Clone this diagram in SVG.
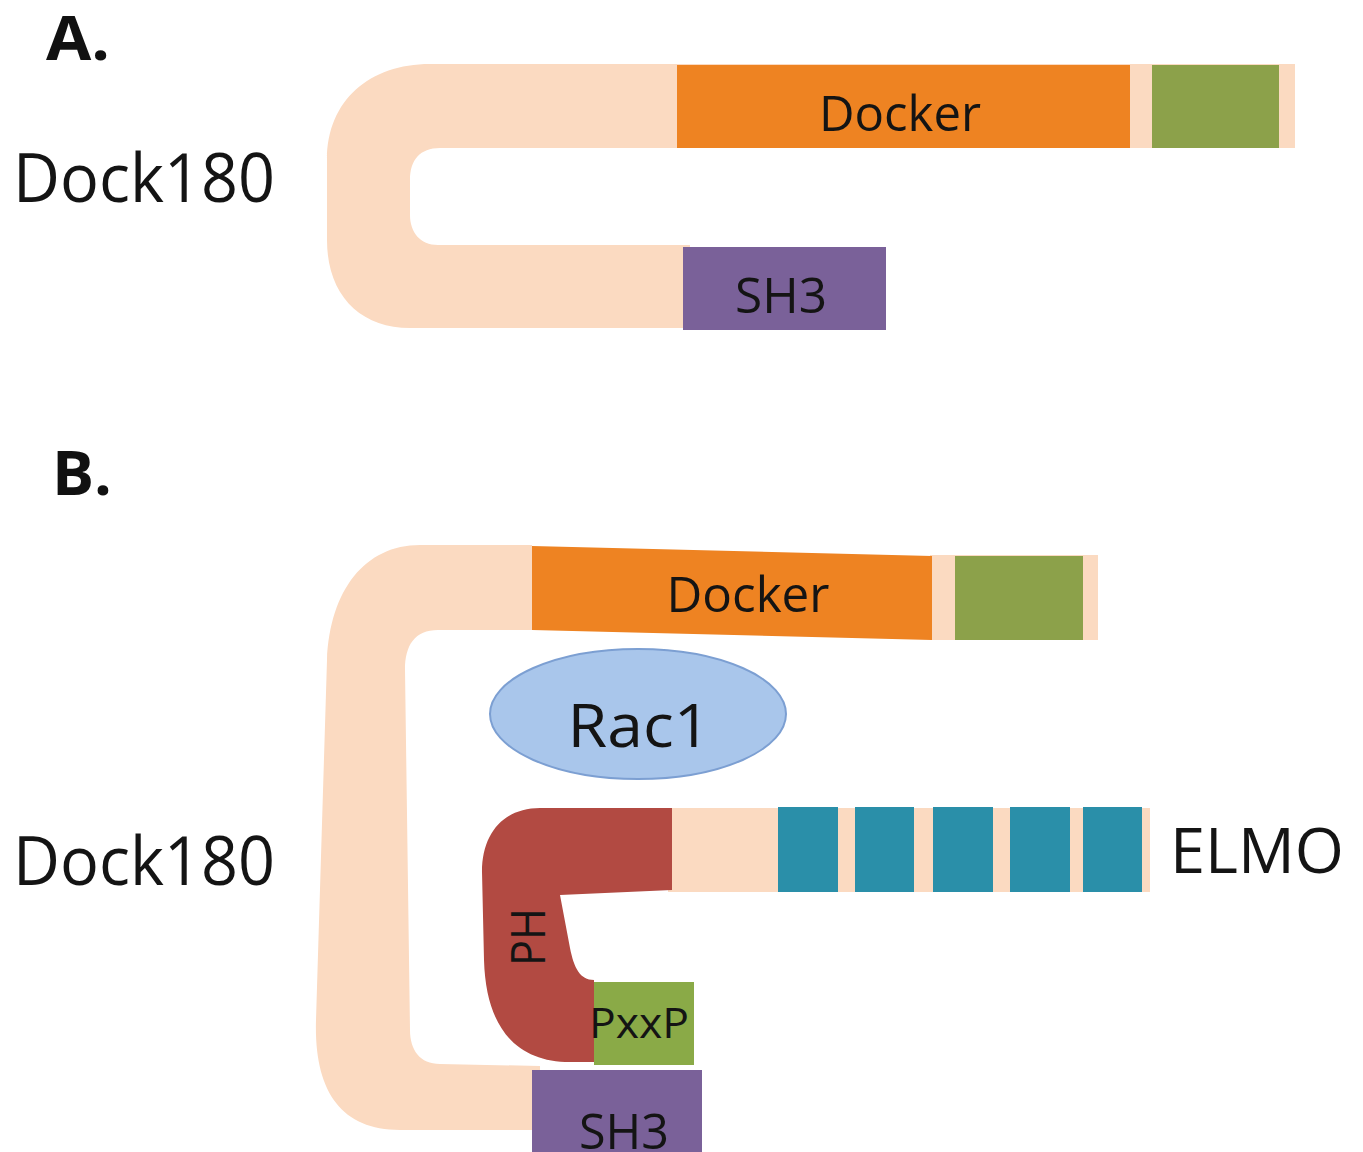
<svg xmlns="http://www.w3.org/2000/svg" width="1363" height="1152" viewBox="0 0 1363 1152">
<style>
.peach{fill:#fbdac1}
.orange{fill:#ee8322}
.green{fill:#8ca14a}
.purple{fill:#7a6199}
.teal{fill:#2a8fa9}
.red{fill:#b24a42}
.lbl{font-family:"Open Sans","Noto Sans",sans-serif;fill:#141414}
.head{font-family:"Open Sans","Noto Sans",sans-serif;font-weight:bold;fill:#111}
</style>
<rect width="1363" height="1152" fill="#ffffff"/>

<g id="panelA">
  <text class="head" x="46" y="60" font-size="60" textLength="64" lengthAdjust="spacingAndGlyphs">A.</text>
  <g id="dock180A">
    <path class="peach" d="M1295,64 L430,64 C370,64 327,100 327,160 L327,240 C327,295 360,328 410,328 L690,328 L690,245 L438,245 C420,245 410,232 410,215 L410,180 C410,160 420,148 440,148 L1295,148 Z"/>
    <rect class="orange" x="677" y="65" width="453" height="83"/>
    <rect class="green" x="1152" y="65" width="127" height="83"/>
    <rect class="purple" x="683" y="247" width="203" height="83"/>
    <text class="lbl" x="900" y="131" font-size="50" text-anchor="middle" textLength="162" lengthAdjust="spacingAndGlyphs">Docker</text>
    <text class="lbl" x="781" y="313" font-size="50" text-anchor="middle" textLength="92" lengthAdjust="spacingAndGlyphs">SH3</text>
    <text class="lbl" x="13" y="202" font-size="67" textLength="262" lengthAdjust="spacingAndGlyphs">Dock180</text>
  </g>
</g>

<g id="panelB">
  <text class="head" x="52" y="495" font-size="60" textLength="60" lengthAdjust="spacingAndGlyphs">B.</text>
  <g id="dock180B">
    <path class="peach" d="M532,545 L420,545 C365,545 330,590 327,660 L316,1020 C314,1090 340,1130 400,1130 L540,1130 L540,1066 L440,1064 C420,1064 410,1050 410,1030 L405,670 C405,645 415,630 438,630 L532,630 Z"/>
    <path class="peach" d="M930,555 L1098,555 L1098,640 L930,640 Z"/>
    <path class="orange" d="M532,546 L932,556 L932,640 L532,630 Z"/>
    <rect class="green" x="955" y="556" width="128" height="84"/>
    <rect class="purple" x="532" y="1070" width="170" height="90"/>
    <text class="lbl" x="748" y="612" font-size="50" text-anchor="middle" textLength="163" lengthAdjust="spacingAndGlyphs">Docker</text>
    <text class="lbl" x="624" y="1149" font-size="50" text-anchor="middle" textLength="90" lengthAdjust="spacingAndGlyphs">SH3</text>
    <text class="lbl" x="13" y="885" font-size="67" textLength="262" lengthAdjust="spacingAndGlyphs">Dock180</text>
  </g>
  <g id="rac1">
    <ellipse cx="638" cy="714" rx="148" ry="65" fill="#a9c6eb" stroke="#7c9fd2" stroke-width="2"/>
    <text class="lbl" x="639" y="747" font-size="61" text-anchor="middle" textLength="143" lengthAdjust="spacingAndGlyphs">Rac1</text>
  </g>
  <g id="elmo">
    <rect class="peach" x="668" y="808" width="482" height="84"/>
    <path class="red" d="M672,808 L540,808 C505,808 482,832 482,872 L484,960 C486,1030 518,1062 570,1062 L594,1062 L594,980 C580,980 574,968 570,948 L560,895 L672,890 Z"/>
    <rect fill="#8aaa47" x="594" y="982" width="100" height="83"/>
    <rect class="teal" x="778" y="807" width="60" height="85"/>
    <rect class="teal" x="855" y="807" width="59" height="85"/>
    <rect class="teal" x="933" y="807" width="60" height="85"/>
    <rect class="teal" x="1010" y="807" width="60" height="85"/>
    <rect class="teal" x="1083" y="807" width="59" height="85"/>
    <text class="lbl" x="545" y="966" font-size="48" transform="rotate(-90 545 966)" textLength="58" lengthAdjust="spacingAndGlyphs">PH</text>
    <text class="lbl" x="589" y="1038" font-size="42" textLength="100" lengthAdjust="spacingAndGlyphs">PxxP</text>
    <text class="lbl" x="1170" y="873" font-size="62" textLength="174" lengthAdjust="spacingAndGlyphs">ELMO</text>
  </g>
</g>
<g id="connectors"></g>
</svg>
